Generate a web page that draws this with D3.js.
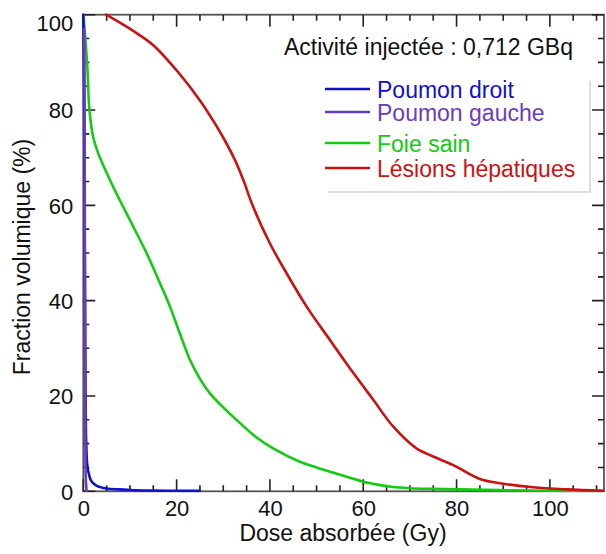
<!DOCTYPE html>
<html>
<head>
<meta charset="utf-8">
<script src="https://cdn.jsdelivr.net/npm/d3@7"></script>
<style>
  html, body { margin: 0; padding: 0; background: #fff; }
  svg { display: block; font-family: "Liberation Sans", Arial, Helvetica, sans-serif; }
</style>
</head>
<body>
<svg id="chart" width="606" height="554"></svg>
<script>
// ---- data (dose in Gy, volume fraction in %) ----
const seriesNames = ["Poumon droit", "Poumon gauche", "Foie sain", "Lésions hépatiques"];
const poumonDroit = [[0,100],[0.15,85],[0.3,55],[0.45,25],[0.6,11],[0.8,6],[1.0,4.5],[1.5,2.6],[2,1.8],[3,1.1],[5,0.6],[7.5,0.4],[10,0.27],[15,0.15],[20,0.1],[25,0.08]];
const poumonGauche = [[0.2,97],[0.27,85],[0.32,60],[0.38,30],[0.44,10],[0.52,3],[0.7,0]];
const foieSain = [[0,100],[0.36,96],[0.86,89],[1.3,80.2],[2.1,74.4],[3.2,70.9],[6.4,63.9],[10,56.9],[13.6,49.9],[16.5,43.5],[18.6,38.7],[20.7,33.1],[22.9,27.5],[25,23.6],[27.1,20.6],[30,17.6],[33.6,14.3],[37,11.4],[40.7,9.0],[46.4,6.2],[50,5.0],[53.6,3.9],[57,2.9],[60,2.0],[63,1.4],[66,0.95],[70,0.65],[75,0.5],[89,0.25],[100,0.12],[111.6,0.05]];
const lesions = [[4.9,100],[10.7,96.6],[15,93.6],[20.7,87.5],[25,82],[28,77.5],[30.4,73.5],[32.5,69.5],[34.3,65.3],[36.4,59.7],[40,52],[43.6,45.7],[47.9,38.7],[52.9,31.7],[57.9,24.8],[62,19.4],[66.4,13.6],[71.4,9.0],[75,7.3],[79.3,5.5],[85,2.6],[89.3,1.7],[96.4,0.85],[103.6,0.4],[111.6,0.1]];
const seriesData = [poumonDroit, poumonGauche, foieSain, lesions];
const seriesColors = ["#1111cc", "#6a3cbf", "#11cc11", "#cc1111"];
const xMajorTicks = [0, 20, 40, 60, 80, 100];
const yMajorTicks = [0, 20, 40, 60, 80, 100];
const xMinorTicks = [5, 10, 15, 25, 30, 35, 45, 50, 55, 65, 70, 75, 85, 90, 95, 105, 110];
const yMinorTicks = [5, 10, 15, 25, 30, 35, 45, 50, 55, 65, 70, 75, 85, 90, 95];
const annotation = "Activité injectée : 0,712 GBq";
const xTitle = "Dose absorbée (Gy)";
const yTitle = "Fraction volumique (%)";

// ---- layout ----
const svg = d3.select("#chart");
const L = 83.3, R = 604, T = 14.7, B = 491.3;
const xs = d3.scaleLinear().domain([0, 111.6]).range([L, R]);
const ys = d3.scaleLinear().domain([0, 100]).range([B, T]);

svg.append("defs").append("clipPath").attr("id", "plotClip")
  .append("rect").attr("x", L - 3).attr("y", T - 2).attr("width", R - L + 3).attr("height", B - T + 3);

// frame
svg.append("rect").attr("x", L).attr("y", T).attr("width", R - L).attr("height", B - T)
  .attr("fill", "none").attr("stroke", "#555").attr("stroke-width", 1.8);

// inward ticks on all four sides
let dstr = "";
function addX(vals, len) {
  for (const v of vals) {
    const px = xs(v);
    dstr += "M" + px + "," + B + "V" + (B - len) + "M" + px + "," + T + "V" + (T + len);
  }
}
function addY(vals, len) {
  for (const v of vals) {
    const py = ys(v);
    dstr += "M" + L + "," + py + "H" + (L + len) + "M" + R + "," + py + "H" + (R - len);
  }
}
addX(xMinorTicks, 6); addX(xMajorTicks, 12);
addY(yMinorTicks, 6); addY(yMajorTicks, 12);
svg.append("path").attr("d", dstr)
  .attr("fill", "none").attr("stroke", "#222").attr("stroke-width", 1.6);

// tick labels (via d3 axes, no lines)
const xLab = svg.append("g").attr("transform", `translate(0,${B})`)
  .call(d3.axisBottom(xs).tickValues(xMajorTicks).tickSize(0).tickPadding(9).tickFormat(d3.format("d")));
xLab.select(".domain").remove();
xLab.selectAll("text").attr("font-size", 22).attr("fill", "#111").attr("font-family", "Liberation Sans, Arial, sans-serif");

const yLab = svg.append("g").attr("transform", `translate(${L},0)`)
  .call(d3.axisLeft(ys).tickValues(yMajorTicks).tickSize(0).tickPadding(10).tickFormat(d3.format("d")));
yLab.select(".domain").remove();
yLab.selectAll("text").attr("font-size", 22).attr("fill", "#111").attr("font-family", "Liberation Sans, Arial, sans-serif")
  .attr("dy", d => d === 100 ? "0.72em" : "0.35em");

// lines
const line = d3.line().x(d => xs(d[0])).y(d => ys(d[1])).curve(d3.curveCatmullRom.alpha(0.5));
const drawOrder = [2, 3, 0, 1];
const plot = svg.append("g").attr("clip-path", "url(#plotClip)");
drawOrder.forEach(i => {
  plot.append("path").datum(seriesData[i]).attr("d", line)
    .attr("fill", "none").attr("stroke", seriesColors[i]).attr("stroke-width", 2.6)
    .attr("stroke-linejoin", "round").attr("stroke-linecap", "round");
});

// annotation
svg.append("text").attr("x", 284).attr("y", 55).attr("font-size", 23).attr("fill", "#111").text(annotation);

// legend
const lg = svg.append("g");
lg.append("rect").attr("x", 328).attr("y", 81).attr("width", 263).attr("height", 112).attr("fill", "#ddd");
lg.append("rect").attr("x", 325).attr("y", 78).attr("width", 264).attr("height", 113).attr("fill", "#fff");
const legendY = [89, 112, 143, 168];
seriesNames.forEach((name, i) => {
  lg.append("line").attr("x1", 325).attr("x2", 370).attr("y1", legendY[i]).attr("y2", legendY[i])
    .attr("stroke", seriesColors[i]).attr("stroke-width", 2.5);
  lg.append("text").attr("x", 377).attr("y", legendY[i] + 9).attr("font-size", 23)
    .attr("fill", seriesColors[i]).text(name);
});

// axis titles
svg.append("text").attr("x", 343).attr("y", 541).attr("text-anchor", "middle")
  .attr("font-size", 23).attr("fill", "#111").text(xTitle);
svg.append("text").attr("transform", "translate(30,257) rotate(-90)").attr("text-anchor", "middle")
  .attr("font-size", 23).attr("fill", "#111").text(yTitle);
</script>
</body>
</html>
